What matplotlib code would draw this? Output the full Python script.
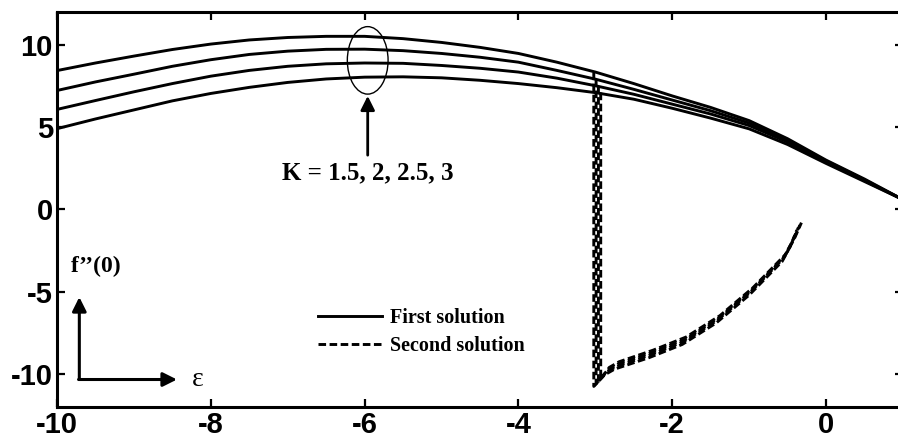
import matplotlib
matplotlib.use("Agg")
import matplotlib.pyplot as plt
from matplotlib.patches import Ellipse

# first solution, one curve per K (K = 1.5, 2, 2.5, 3 from top to bottom)
eps = [-10, -9.5, -9, -8.5, -8, -7.5, -7, -6.5, -6, -5.5, -5, -4.5, -4, -3.5,
       -3, -2.5, -2, -1.5, -1, -0.5, 0, 0.5, 1]
first_k1 = [8.44, 8.90, 9.32, 9.72, 10.05, 10.30, 10.45, 10.52, 10.52, 10.38, 10.15, 9.85,
            9.48, 8.95, 8.35, 7.65, 6.90, 6.20, 5.40, 4.30, 3.00, 1.85, 0.60]
first_k2 = [7.23, 7.75, 8.22, 8.70, 9.10, 9.42, 9.62, 9.73, 9.74, 9.65, 9.48, 9.25,
            8.95, 8.45, 7.92, 7.30, 6.65, 6.00, 5.25, 4.20, 2.95, 1.80, 0.60]
first_k3 = [6.08, 6.62, 7.15, 7.65, 8.10, 8.45, 8.70, 8.85, 8.90, 8.88, 8.75, 8.58,
            8.35, 7.98, 7.52, 7.00, 6.40, 5.80, 5.10, 4.10, 2.90, 1.75, 0.60]
first_k4 = [4.91, 5.50, 6.05, 6.60, 7.05, 7.42, 7.72, 7.93, 8.04, 8.06, 8.00, 7.85,
            7.65, 7.40, 7.10, 6.70, 6.15, 5.55, 4.90, 3.95, 2.80, 1.70, 0.60]

# second solution branches
sec_k1_x = [-3.02, -3.02, -2.88, -2.75, -2.30, -1.87, -1.43, -1.00, -0.57, -0.46, -0.38]
sec_k1_y = [8.32, -10.75, -10.05, -9.70, -9.00, -8.20, -6.90, -5.20, -3.15, -2.20, -1.25]
sec_k2_x = [-2.99, -2.99, -2.86, -2.73, -2.29, -1.86, -1.42, -0.99, -0.56, -0.45, -0.36]
sec_k2_y = [7.90, -10.60, -9.90, -9.55, -8.85, -8.05, -6.75, -5.05, -3.00, -2.05, -1.10]
sec_k3_x = [-2.96, -2.96, -2.84, -2.71, -2.27, -1.84, -1.40, -0.97, -0.54, -0.43, -0.34]
sec_k3_y = [7.50, -10.45, -9.75, -9.40, -8.70, -7.90, -6.60, -4.90, -2.85, -1.90, -0.95]
sec_k4_x = [-2.93, -2.93, -2.82, -2.69, -2.25, -1.82, -1.38, -0.95, -0.52, -0.41, -0.32]
sec_k4_y = [7.10, -10.30, -9.60, -9.25, -8.55, -7.75, -6.45, -4.75, -2.70, -1.75, -0.80]

xticks = [-10, -8, -6, -4, -2, 0]
yticks = [-10, -5, 0, 5, 10]

fig = plt.figure(figsize=(8.98, 4.47), dpi=100)
ax = fig.add_axes([0.0635, 0.0895, 0.942, 0.8837])

lw = 2.1
dash = (2.6, 1.2)
l1 = None
for ys in [first_k1, first_k2, first_k3, first_k4]:
    l, = ax.plot(eps, ys, 'k-', lw=lw, solid_joinstyle='round')
    if l1 is None:
        l1 = l
l2 = None
for xs, ys in [(sec_k1_x, sec_k1_y), (sec_k2_x, sec_k2_y),
               (sec_k3_x, sec_k3_y), (sec_k4_x, sec_k4_y)]:
    l, = ax.plot(xs, ys, 'k--', lw=lw, dashes=dash)
    if l2 is None:
        l2 = l

ax.set_xlim(-10, 1)
ax.set_ylim(-12, 12)
ax.set_xticks(xticks)
ax.set_yticks(yticks)
ax.set_xticklabels([str(t) for t in xticks])
ax.set_yticklabels([str(t) for t in yticks])
ax.tick_params(direction='in', length=6, width=1.6, top=True, right=True, pad=3)
for lab in ax.get_xticklabels() + ax.get_yticklabels():
    lab.set_fontfamily('Liberation Sans')
    lab.set_fontweight('bold')
    lab.set_fontsize(21)
for sp in ax.spines.values():
    sp.set_linewidth(2.2)

serif = ['Liberation Serif', 'DejaVu Serif']
head = '-|>,head_length=0.6,head_width=0.3'

# K label with ellipse and arrow
ax.add_patch(Ellipse((-5.96, 9.06), 0.53, 4.1, fill=False, ec='k', lw=1.0))
ax.annotate('', xy=(-5.96, 6.9), xytext=(-5.96, 3.3),
            arrowprops=dict(arrowstyle=head, mutation_scale=14, color='k',
                            lw=2.0, shrinkA=0, shrinkB=0))
ax.text(-5.96, 2.24, 'K = 1.5, 2, 2.5, 3', ha='center', va='center',
        family=serif, fontweight='bold', fontsize=18)

# little axis sketch in the lower left
ax.annotate('', xy=(-9.71, -5.32), xytext=(-9.71, -10.33),
            arrowprops=dict(arrowstyle=head, mutation_scale=14, color='k',
                            lw=2.2, shrinkA=0, shrinkB=0))
ax.annotate('', xy=(-8.44, -10.33), xytext=(-9.72, -10.33),
            arrowprops=dict(arrowstyle=head, mutation_scale=14, color='k',
                            lw=2.2, shrinkA=0, shrinkB=0))
ax.text(-9.49, -3.44, 'f\u2019\u2019(0)', ha='center', va='center',
        family=serif, fontweight='bold', fontsize=17)
ax.text(-8.17, -10.3, '\u03b5', ha='center', va='center',
        family=serif, fontsize=20)

ax.legend([l1, l2], ['First solution', 'Second solution'],
          loc='upper left', bbox_to_anchor=(0.3085, 0.2506),
          frameon=False, borderpad=0, borderaxespad=0,
          handlelength=3.2, handletextpad=0.4, labelspacing=0.4,
          prop={'family': serif, 'weight': 'bold', 'size': 14.5})

fig.savefig('out.png', dpi=100)
